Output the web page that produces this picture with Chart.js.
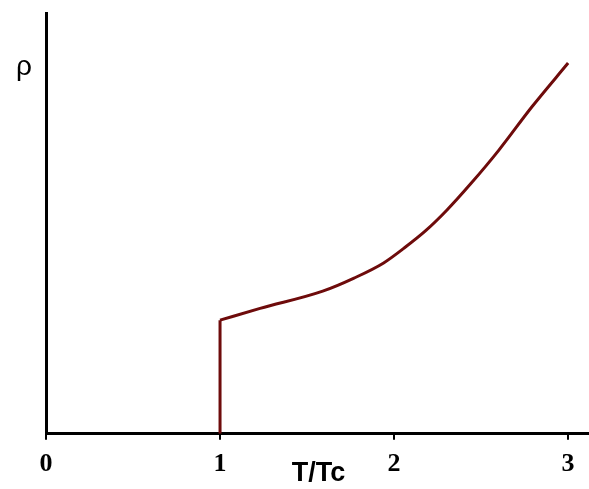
<!DOCTYPE html>
<html>
<head>
<meta charset="utf-8">
<script src="https://cdn.jsdelivr.net/npm/chart.js@4"></script>
<style>
  html, body { margin: 0; padding: 0; background: #fff; }
  canvas { display: block; }
</style>
</head>
<body>
<canvas id="chart" width="589" height="489"></canvas>
<script>
// Resistivity against reduced temperature
var xTicks = [0, 1, 2, 3];
var xTitle = 'T/Tc';
var yTitle = 'ρ';

// jump at Tc
var jumpT   = [1, 1];
var jumpRho = [0, 0.270];

// normal-state branch above Tc
var tTc = [1, 1.23, 1.59, 1.77, 1.94, 2.06, 2.18, 2.30, 2.44, 2.60, 2.79, 3.0];
var rho = [0.270, 0.298, 0.339, 0.370, 0.406, 0.442, 0.482, 0.530, 0.594, 0.673, 0.776, 0.881];

function toPoints(xs, ys) {
    return xs.map(function(v, i) { return { x: v, y: ys[i] }; });
}

// Axis titles drawn upright, next to the axes
var axisText = {
    id: 'axisText',
    afterDraw: function(chart) {
        var ctx = chart.ctx;
        var area = chart.chartArea;
        var y = chart.scales.y;
        ctx.save();
        ctx.fillStyle = '#000';
        ctx.textAlign = 'center';
        ctx.textBaseline = 'middle';
        ctx.font = 'bold 27px "Liberation Sans", Arial, sans-serif';
        ctx.fillText(xTitle, (area.left + area.right) / 2 + 1, area.bottom + 40);
        ctx.font = '28px "Liberation Sans", Arial, sans-serif';
        ctx.fillText(yTitle, area.left - 22, y.getPixelForValue(0.87));
        ctx.restore();
    }
};

var ctx = document.getElementById('chart').getContext('2d');
var chart = new Chart(ctx, {
    type: 'line',
    data: {
        datasets: [{
            data: toPoints(jumpT, jumpRho),
            borderColor: '#6e0b0b',
            borderWidth: 3,
            pointRadius: 0,
            tension: 0
        }, {
            data: toPoints(tTc, rho),
            borderColor: '#6e0b0b',
            borderWidth: 3,
            pointRadius: 0,
            cubicInterpolationMode: 'monotone'
        }]
    },
    options: {
        responsive: false,
        animation: false,
        layout: { padding: { left: 46, top: 13, right: 0, bottom: 0 } },
        plugins: {
            legend: { display: false },
            tooltip: { enabled: false }
        },
        scales: {
            x: {
                type: 'linear',
                min: 0,
                max: 3.12,
                afterBuildTicks: function(scale) {
                    scale.ticks = xTicks.map(function(v) { return { value: v }; });
                },
                grid: {
                    drawOnChartArea: false,
                    color: '#000',
                    lineWidth: 2,
                    tickLength: 6
                },
                border: { color: '#000', width: 3 },
                ticks: {
                    color: '#000',
                    padding: 9,
                    maxRotation: 0,
                    font: { family: '"Liberation Serif", "Times New Roman", serif', size: 26, weight: 'bold' }
                }
            },
            y: {
                min: 0,
                max: 1,
                grid: { drawOnChartArea: false, drawTicks: false },
                border: { color: '#000', width: 3 },
                ticks: { display: false }
            }
        }
    },
    plugins: [axisText]
});
</script>
</body>
</html>
